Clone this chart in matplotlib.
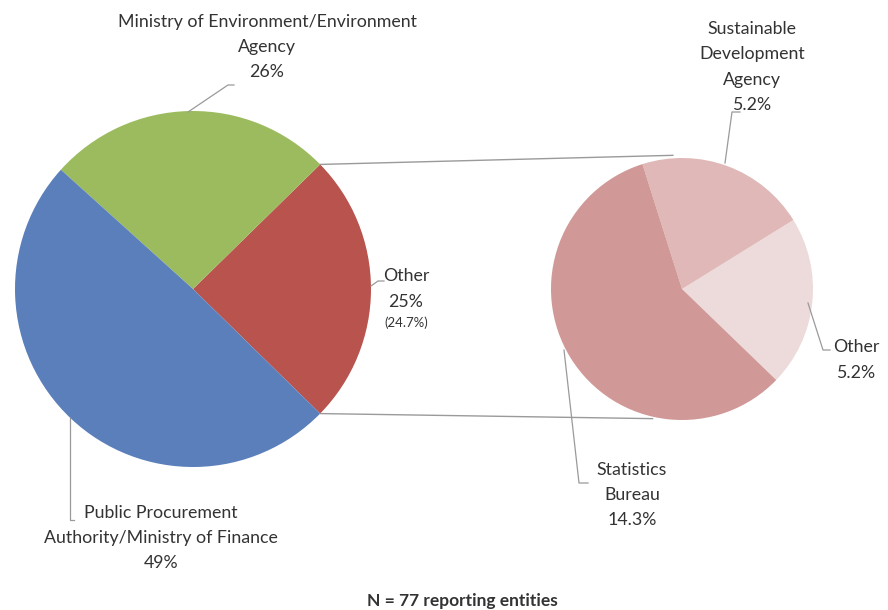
import numpy as np
import matplotlib
matplotlib.use("Agg")
import matplotlib.pyplot as plt

# reporting entities by lead institution (N = 77)
main_labels = ["Other", "Ministry of Environment/Environment\nAgency",
               "Public Procurement\nAuthority/Ministry of Finance"]
main_counts = [19, 20, 38]
main_colors = ["#B8534E", "#9BBB5E", "#5A7FBA"]

# breakdown of the "Other" slice
sub_labels = ["Other", "Sustainable\nDevelopment\nAgency", "Statistics\nBureau"]
sub_counts = [4, 4, 11]
sub_colors = ["#EDDADA", "#DFB8B7", "#D09896"]

N = sum(main_counts)
W, H = 888, 610
TXT = "#333333"
LINE = "#9A9A9A"

plt.rcParams["font.family"] = ["Lato", "DejaVu Sans"]

fig = plt.figure(figsize=(W / 100, H / 100), dpi=100)
ax = fig.add_axes([0, 0, 1, 1])


def Y(y):
    # image-style y (from top) to axes y
    return H - y


c1, r1 = (193, Y(289)), 178
c2, r2 = (682, Y(289)), 131
start1 = -360 * main_counts[0] / N / 2
start2 = -44

ax.pie(main_counts, colors=main_colors, startangle=start1, center=c1,
       radius=r1, counterclock=True, frame=True,
       wedgeprops=dict(linewidth=0))
ax.pie(sub_counts, colors=sub_colors, startangle=start2, center=c2,
       radius=r2, counterclock=True, frame=True,
       wedgeprops=dict(linewidth=0))

# connector lines between the "Other" slice and the breakdown pie
a_top = np.deg2rad(start1 + 360 * main_counts[0] / N)
a_bot = np.deg2rad(start1)
p_top = (c1[0] + r1 * np.cos(a_top), c1[1] + r1 * np.sin(a_top))
p_bot = (c1[0] + r1 * np.cos(a_bot), c1[1] + r1 * np.sin(a_bot))
q_top = (c2[0] + r2 * np.cos(np.deg2rad(94)), c2[1] + r2 * np.sin(np.deg2rad(94)) + 3)
q_bot = (c2[0] + r2 * np.cos(np.deg2rad(-103)), c2[1] + r2 * np.sin(np.deg2rad(-103)) - 2)
ax.plot([p_top[0], q_top[0]], [p_top[1], q_top[1]], color=LINE, lw=1.0)
ax.plot([p_bot[0], q_bot[0]], [p_bot[1], q_bot[1]], color=LINE, lw=1.0)


def leader(pts):
    xs = [p[0] for p in pts]
    ys = [Y(p[1]) for p in pts]
    ax.plot(xs, ys, color=LINE, lw=0.9)


def pct(n, d=0):
    return f"{100 * n / N:.{d}f}%"


fs = 12.8
ls = 1.72
# main pie labels
ax.text(267, Y(47), main_labels[1] + "\n" + pct(main_counts[1]), ha="center",
        va="center", fontsize=fs, color=TXT, linespacing=ls)
leader([(188, 112), (228, 85), (234, 85)])

ax.text(161, Y(538), main_labels[2] + "\n" + pct(main_counts[2]), ha="center",
        va="center", fontsize=fs, color=TXT, linespacing=ls)
leader([(70, 418), (70, 520), (74, 520)])

ax.text(406, Y(289), main_labels[0] + "\n" + pct(main_counts[0]), ha="center",
        va="center", fontsize=fs, color=TXT, linespacing=ls)
ax.text(406, Y(323), "(" + pct(main_counts[0], 1) + ")", ha="center",
        va="center", fontsize=9.5, color=TXT)
leader([(371, 286), (378, 281), (384, 281)])

# breakdown pie labels
ax.text(752, Y(67), sub_labels[1] + "\n" + pct(sub_counts[1], 1), ha="center",
        va="center", fontsize=fs, color=TXT, linespacing=ls)
leader([(740, 112), (732, 112), (725, 163)])

ax.text(856, Y(360), sub_labels[0] + "\n" + pct(sub_counts[0], 1), ha="center",
        va="center", fontsize=fs, color=TXT, linespacing=ls)
leader([(808, 303), (823, 350), (830, 350)])

ax.text(632, Y(495), sub_labels[2] + "\n" + pct(sub_counts[2], 1), ha="center",
        va="center", fontsize=fs, color=TXT, linespacing=ls)
leader([(564, 350), (579, 483), (588, 483)])

ax.text(462, Y(601), f"N = {N} reporting entities", ha="center", va="center",
        fontsize=12.5, fontweight="bold", color=TXT)

ax.set_xlim(0, W)
ax.set_ylim(0, H)
ax.set_aspect("equal")
ax.axis("off")

fig.savefig("out.png", dpi=100, facecolor="white")
